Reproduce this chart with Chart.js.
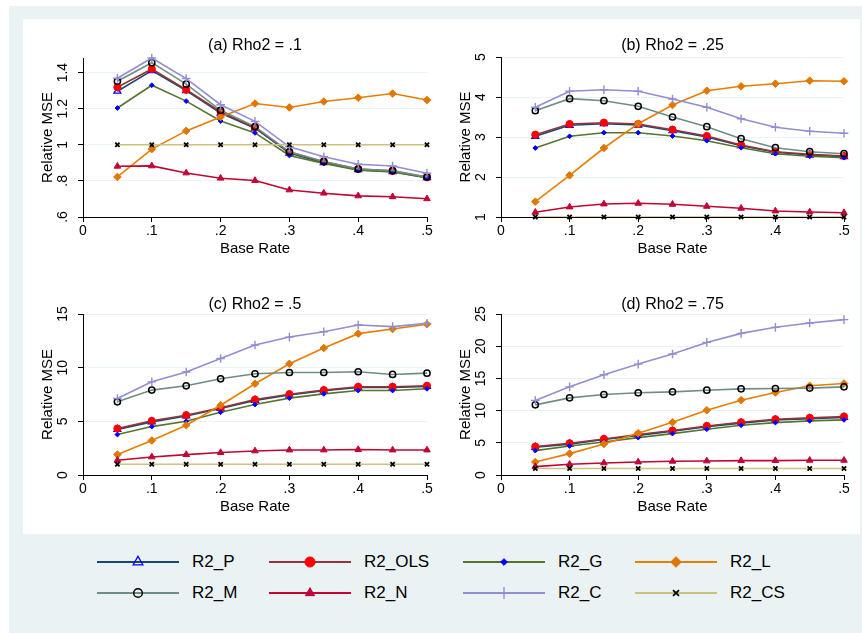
<!DOCTYPE html>
<html>
<head>
<meta charset="utf-8">
<script src="https://cdn.jsdelivr.net/npm/chart.js@4.4.1/dist/chart.umd.min.js"></script>
<style>
  html, body { margin:0; padding:0; }
  body { width:862px; height:633px; position:relative; overflow:hidden; background:#fff;
         font-family:"Liberation Sans", Arial, Helvetica, sans-serif; color:#000; }
  .abs { position:absolute; }
  .ptitle { position:absolute; width:240px; text-align:center; font-size:16px; line-height:18px; white-space:nowrap; }
  .lg { position:absolute; font-size:17px; line-height:20px; white-space:nowrap; }
</style>
</head>
<body>
<div class="abs" style="left:9px;top:6px;width:853px;height:627px;background:#eaf2f3"></div>
<div class="abs" style="left:23px;top:19px;width:837px;height:515px;background:#fff"></div>
<div id="root"></div>
<script>
// ---------------- DATA ----------------
const baseRate = [0.05, 0.10, 0.15, 0.20, 0.25, 0.30, 0.35, 0.40, 0.45, 0.50];
const seriesNames = ['R2_P', 'R2_OLS', 'R2_G', 'R2_L', 'R2_M', 'R2_N', 'R2_C', 'R2_CS'];
const panelTitles = ['(a) Rho2 = .1', '(b) Rho2 = .25', '(c) Rho2 = .5', '(d) Rho2 = .75'];
const xTicks = [0, 0.1, 0.2, 0.3, 0.4, 0.5];
const yTicksA = [0.6, 0.8, 1, 1.2, 1.4];
const yTicksB = [1, 2, 3, 4, 5];
const yTicksC = [0, 5, 10, 15];
const yTicksD = [0, 5, 10, 15, 20, 25];

// (a) Rho2 = .1
const P_a   = [1.297, 1.411, 1.301, 1.176, 1.092, 0.954, 0.901, 0.862, 0.851, 0.818];
const OLS_a = [1.319, 1.420, 1.305, 1.183, 1.095, 0.960, 0.906, 0.866, 0.855, 0.820];
const G_a   = [1.204, 1.330, 1.242, 1.132, 1.066, 0.941, 0.897, 0.859, 0.850, 0.817];
const L_a   = [0.822, 0.976, 1.077, 1.154, 1.229, 1.207, 1.240, 1.261, 1.284, 1.248];
const M_a   = [1.352, 1.455, 1.336, 1.191, 1.101, 0.961, 0.908, 0.866, 0.857, 0.822];
const N_a   = [0.881, 0.883, 0.844, 0.815, 0.802, 0.750, 0.732, 0.717, 0.712, 0.701];
const C_a   = [1.369, 1.481, 1.367, 1.222, 1.130, 0.989, 0.934, 0.892, 0.883, 0.842];
const CS_a  = [1, 1, 1, 1, 1, 1, 1, 1, 1, 1];

// (b) Rho2 = .25
const P_b   = [3.017, 3.292, 3.333, 3.300, 3.158, 3.000, 2.783, 2.617, 2.550, 2.508];
const OLS_b = [3.058, 3.325, 3.358, 3.325, 3.183, 3.025, 2.800, 2.633, 2.567, 2.525];
const G_b   = [2.725, 3.017, 3.108, 3.108, 3.025, 2.908, 2.733, 2.583, 2.517, 2.483];
const L_b   = [1.383, 2.042, 2.725, 3.333, 3.800, 4.158, 4.267, 4.333, 4.408, 4.392];
const M_b   = [3.658, 3.958, 3.908, 3.767, 3.500, 3.258, 2.958, 2.733, 2.633, 2.583];
const N_b   = [1.117, 1.250, 1.325, 1.342, 1.317, 1.267, 1.217, 1.150, 1.125, 1.108];
const C_b   = [3.742, 4.142, 4.183, 4.142, 3.950, 3.742, 3.458, 3.242, 3.142, 3.092];
const CS_b  = [1, 1, 1, 1, 1, 1, 1, 1, 1, 1];

// (c) Rho2 = .5
const P_c   = [4.25, 4.95, 5.50, 6.20, 6.95, 7.45, 7.85, 8.15, 8.15, 8.25];
const OLS_c = [4.33, 5.04, 5.57, 6.26, 7.03, 7.53, 7.91, 8.22, 8.22, 8.31];
const G_c   = [3.77, 4.51, 5.01, 5.85, 6.57, 7.16, 7.56, 7.87, 7.87, 8.03];
const L_c   = [1.90, 3.21, 4.64, 6.50, 8.50, 10.36, 11.83, 13.17, 13.60, 14.04];
const M_c   = [6.82, 7.91, 8.31, 8.96, 9.43, 9.55, 9.55, 9.62, 9.37, 9.49];
const N_c   = [1.37, 1.68, 1.90, 2.09, 2.24, 2.33, 2.33, 2.37, 2.33, 2.33];
const C_c   = [7.13, 8.68, 9.59, 10.86, 12.11, 12.85, 13.35, 13.97, 13.82, 14.13];
const CS_c  = [1, 1, 1, 1, 1, 1, 1, 1, 1, 1];

// (d) Rho2 = .75
const P_d   = [4.30, 4.80, 5.50, 6.15, 6.80, 7.50, 8.05, 8.55, 8.75, 8.95];
const OLS_d = [4.41, 4.93, 5.60, 6.28, 6.90, 7.62, 8.19, 8.66, 8.87, 9.08];
const G_d   = [3.79, 4.51, 5.13, 5.81, 6.43, 7.11, 7.73, 8.14, 8.40, 8.56];
const L_d   = [2.02, 3.32, 4.82, 6.48, 8.19, 10.06, 11.62, 12.81, 13.85, 14.21];
const M_d   = [10.89, 11.98, 12.50, 12.76, 12.91, 13.17, 13.38, 13.43, 13.49, 13.69];
const N_d   = [1.30, 1.66, 1.87, 2.02, 2.13, 2.18, 2.23, 2.23, 2.28, 2.28];
const C_d   = [11.57, 13.69, 15.56, 17.22, 18.78, 20.59, 21.99, 22.93, 23.60, 24.12];
const CS_d  = [1, 1, 1, 1, 1, 1, 1, 1, 1, 1];

// ---------------- STYLE / LAYOUT ----------------
const FONT = '"Liberation Sans", Arial, Helvetica, sans-serif';
const styles = [
  {line:'#1a476f', pt:'triangle', bg:'rgba(0,0,0,0)', bc:'#0000ff', r:4,   bw:1.3},
  {line:'#90353b', pt:'circle',   bg:'#ff0000', bc:'#ff0000', r:3.6, bw:1},
  {line:'#55752f', pt:'rectRot',  bg:'#0000ff', bc:'#0000ff', r:2.4, bw:1},
  {line:'#e87d00', pt:'rectRot',  bg:'#e07800', bc:'#e07800', r:3.8, bw:1},
  {line:'#6e8e84', pt:'circle',   bg:'rgba(0,0,0,0)', bc:'#000000', r:3.1, bw:1.5},
  {line:'#c10534', pt:'triangle', bg:'#c10534', bc:'#c10534', r:3.8, bw:1},
  {line:'#938dd2', pt:'cross',    bg:'#938dd2', bc:'#938dd2', r:4.3, bw:1.4},
  {line:'#cac27e', pt:'crossRot', bg:'#000000', bc:'#000000', r:3,   bw:1.8}
];
const LEGEND_MARKER_SCALE = 1.4;
const panels = [
  {plotL:83,  plotR:427, plotT:58,  plotB:217, titleY:45,  series:[P_a,OLS_a,G_a,L_a,M_a,N_a,C_a,CS_a], yTicks:yTicksA},
  {plotL:501, plotR:844, plotT:57,  plotB:217, titleY:45,  series:[P_b,OLS_b,G_b,L_b,M_b,N_b,C_b,CS_b], yTicks:yTicksB},
  {plotL:83,  plotR:427, plotT:314, plotB:475, titleY:304, series:[P_c,OLS_c,G_c,L_c,M_c,N_c,C_c,CS_c], yTicks:yTicksC},
  {plotL:501, plotR:844, plotT:314, plotB:475, titleY:304, series:[P_d,OLS_d,G_d,L_d,M_d,N_d,C_d,CS_d], yTicks:yTicksD}
];

Chart.defaults.font.family = FONT;
Chart.defaults.color = '#000';

function fmt(v) {
  const n = +(+v).toFixed(6);
  if (n === 0) return '0';
  return String(n).replace(/^0\./, '.').replace(/^-0\./, '-.');
}
const measureCtx = document.createElement('canvas').getContext('2d');
function widest(labels, size) {
  measureCtx.font = size + 'px ' + FONT;
  return Math.max(...labels.map(l => measureCtx.measureText(l).width));
}

const root = document.getElementById('root');
const PAD_TOP = 20, YW = 60, XH = 47, PAD_R = 14;

panels.forEach((p, pi) => {
  const left = p.plotL - YW, top = p.plotT - PAD_TOP;
  const width = p.plotR + PAD_R - left, height = p.plotB + XH - top;
  const cv = document.createElement('canvas');
  cv.width = width; cv.height = height;
  cv.style.cssText = `position:absolute;left:${left}px;top:${top}px;width:${width}px;height:${height}px;`;
  root.appendChild(cv);

  const t = document.createElement('div');
  t.className = 'ptitle';
  t.textContent = panelTitles[pi];
  t.style.left = ((p.plotL + p.plotR) / 2 - 120) + 'px';
  t.style.top = (p.titleY - 9) + 'px';
  root.appendChild(t);

  const allVals = p.series.flat();
  const yMin = Math.min(Math.min(...allVals), p.yTicks[0]);
  const yMax = Math.max(Math.max(...allVals), p.yTicks[p.yTicks.length - 1]);
  const yLabels = p.yTicks.map(fmt);
  const yPad = 14.5 - widest(yLabels, 14) / 2;

  const datasets = p.series.map((arr, i) => {
    const s = styles[i];
    return {
      label: seriesNames[i],
      data: baseRate.map((x, k) => ({x: x, y: arr[k]})),
      borderColor: s.line,
      borderWidth: 1.6,
      tension: 0,
      fill: false,
      pointStyle: s.pt,
      pointRadius: s.r,
      pointBackgroundColor: s.bg,
      pointBorderColor: s.bc,
      pointBorderWidth: s.bw,
      pointHoverRadius: s.r,
      order: seriesNames.length - 1 - i,
      clip: false
    };
  });

  new Chart(cv, {
    type: 'line',
    data: { datasets },
    options: {
      responsive: false,
      animation: false,
      devicePixelRatio: 1,
      events: [],
      layout: { padding: { left: 0, right: PAD_R, top: PAD_TOP, bottom: 0 } },
      plugins: { legend: { display: false }, tooltip: { enabled: false }, title: { display: false } },
      scales: {
        x: {
          type: 'linear', min: 0, max: 0.5,
          afterBuildTicks: s => { s.ticks = xTicks.map(v => ({value: v})); },
          afterFit: s => { s.height = XH; },
          ticks: { callback: v => fmt(v), font: { size: 14 }, color: '#000', padding: 1, maxRotation: 0, minRotation: 0, autoSkip: false },
          grid: { drawOnChartArea: false, drawTicks: true, tickLength: 5, tickColor: '#000', tickWidth: 1 },
          border: { display: true, color: '#000', width: 1, z: 1 },
          title: { display: true, text: 'Base Rate', font: { size: 15 }, color: '#000', padding: { top: 0, bottom: 6 } }
        },
        y: {
          type: 'linear', min: yMin, max: yMax,
          afterBuildTicks: s => { s.ticks = p.yTicks.map(v => ({value: v})); },
          afterFit: s => { s.width = YW; },
          ticks: { callback: v => fmt(v), font: { size: 14 }, color: '#000', padding: yPad, minRotation: 90, maxRotation: 90, crossAlign: 'center', autoSkip: false },
          grid: { color: '#eaf2f3', lineWidth: 1, drawTicks: true, tickLength: 5, tickColor: '#000', tickWidth: 1 },
          border: { display: true, color: '#000', width: 1, z: 1 },
          title: { display: true, text: 'Relative MSE', font: { size: 15 }, color: '#000', padding: { top: 16, bottom: 0 } }
        }
      }
    }
  });
});

// ---------------- LEGEND ----------------
function svgMarker(s, cx, cy, k) {
  const r = s.r * k;
  switch (s.pt) {
    case 'circle':
      return `<circle cx="${cx}" cy="${cy}" r="${r}" fill="${s.bg}" stroke="${s.bc}" stroke-width="${s.bw}"/>`;
    case 'triangle': {
      const pts = [[cx, cy - r], [cx + 0.866 * r, cy + 0.5 * r], [cx - 0.866 * r, cy + 0.5 * r]];
      return `<polygon points="${pts.map(q => q.join(',')).join(' ')}" fill="${s.bg}" stroke="${s.bc}" stroke-width="${s.bw}"/>`;
    }
    case 'rectRot': {
      const pts = [[cx, cy - r], [cx + r, cy], [cx, cy + r], [cx - r, cy]];
      return `<polygon points="${pts.map(q => q.join(',')).join(' ')}" fill="${s.bg}" stroke="${s.bc}" stroke-width="${s.bw}"/>`;
    }
    case 'cross':
      return `<path d="M${cx},${cy - r}L${cx},${cy + r}M${cx - r},${cy}L${cx + r},${cy}" stroke="${s.bc}" stroke-width="${s.bw}"/>`;
    case 'crossRot': {
      const d = r * 0.7071;
      return `<path d="M${cx - d},${cy - d}L${cx + d},${cy + d}M${cx - d},${cy + d}L${cx + d},${cy - d}" stroke="${s.bc}" stroke-width="${s.bw}"/>`;
    }
  }
  return '';
}
const lgLineX = [97, 269, 463, 635];
const lgLabelX = [192, 364, 558, 730];
const lgRowY = [562, 593];
seriesNames.forEach((name, i) => {
  const col = i % 4, row = Math.floor(i / 4);
  const s = styles[i];
  const y = lgRowY[row];
  const svg = document.createElementNS('http://www.w3.org/2000/svg', 'svg');
  svg.setAttribute('width', 82); svg.setAttribute('height', 16);
  svg.style.cssText = `position:absolute;left:${lgLineX[col]}px;top:${y - 8}px;overflow:visible;`;
  svg.innerHTML = `<line x1="0" y1="8" x2="82" y2="8" stroke="${s.line}" stroke-width="2"/>` + svgMarker(s, 41, 8, LEGEND_MARKER_SCALE);
  root.appendChild(svg);
  const lab = document.createElement('div');
  lab.className = 'lg';
  lab.textContent = name;
  lab.style.left = lgLabelX[col] + 'px';
  lab.style.top = (y - 10) + 'px';
  root.appendChild(lab);
});
</script>
</body>
</html>
